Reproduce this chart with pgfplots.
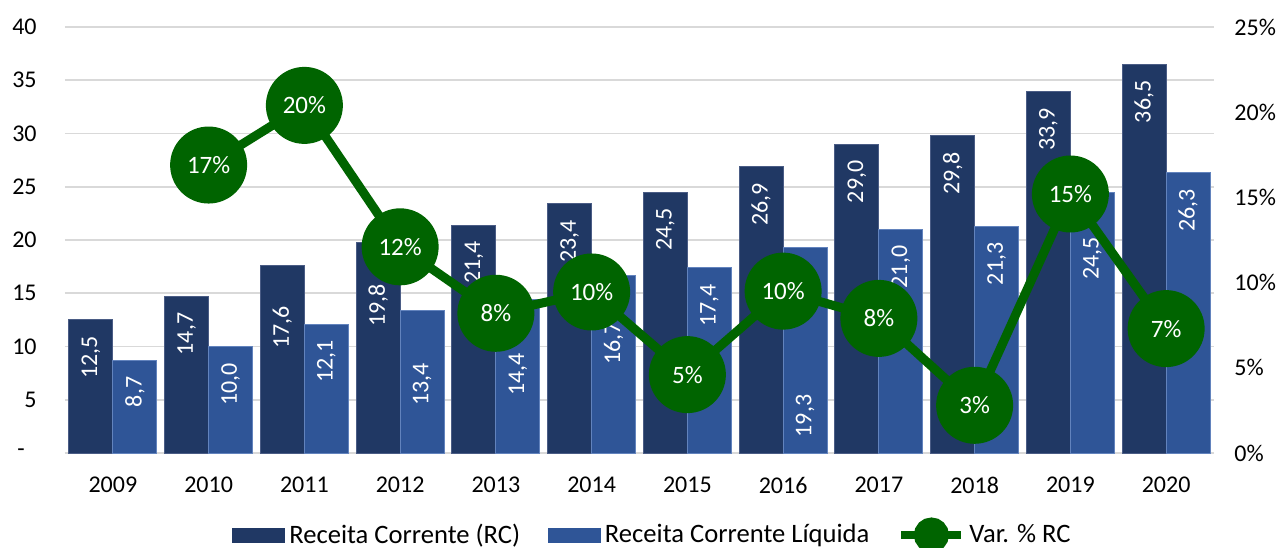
\documentclass[border=0pt]{standalone}
\usepackage{fontspec}
\setmainfont{Carlito}
\usepackage{graphicx}
\usepackage{pgfplots}
\usepackage{pgfplotstable}
\pgfplotsset{compat=1.18}
\definecolor{navy}{HTML}{203864}
\definecolor{navyedge}{HTML}{4A5C85}
\definecolor{lblue}{HTML}{2F5597}
\definecolor{lblueedge}{HTML}{6283BD}
\definecolor{vgreen}{HTML}{006400}
\definecolor{gridc}{HTML}{D9D9D9}

% x, value, label text, label top position (axis units)
\pgfplotstableread{
x rc lrc prc rcl lrcl prcl
0 12.5 12,5 11.0 8.7 8,7 7.2
1 14.7 14,7 13.2 10.0 10,0 8.5
2 17.6 17,6 13.8 12.1 12,1 10.6
3 19.8 19,8 15.9 13.4 13,4 8.5
4 21.4 21,4 19.9 14.4 14,4 9.4
5 23.4 23,4 21.9 16.7 16,7 12.3
6 24.5 24,5 23.0 17.4 17,4 15.9
7 26.9 26,9 25.4 19.3 19,3 5.5
8 29.0 29,0 27.5 21.0 21,0 19.5
9 29.8 29,8 28.3 21.3 21,3 19.8
10 33.9 33,9 32.4 24.5 24,5 20.3
11 36.5 36,5 35.0 26.3 26,3 24.8
}\bars

\pgfplotstableread{
x v lbl
1 16.9 17
2 20.4 20
3 12.1 12
4 8.2 8
5 9.45 10
6 4.6 5
7 9.5 10
8 7.9 8
9 2.8 3
10 15.2 15
11 7.3 7
}\var

\begin{document}
\begin{tikzpicture}
\begin{axis}[
  scale only axis, width=574.5pt, height=213pt,
  xmin=-0.5, xmax=11.5, ymin=0, ymax=40,
  axis line style={draw=none}, tick style={draw=none},
  major tick length=0pt,
  xtick={0,...,11},
  xticklabels={2009,2010,2011,2012,2013,2014,2015,2016,2017,2018,2019,2020},
  xticklabel style={font=\fontsize{12}{14}\selectfont, inner sep=0pt, anchor=north, yshift=-12pt},
  ytick={0,5,...,40},
  yticklabels={-\kern6pt,5,10,15,20,25,30,35,40},
  yticklabel style={font=\fontsize{12}{14}\selectfont, inner sep=0pt, anchor=east, xshift=-14pt},
  ymajorgrids, grid style={gridc, line width=0.8pt},
  clip=false,
]
\coordinate (o) at (rel axis cs:0,0);
\addplot[ybar, bar width=22pt, bar shift=-11pt, fill=navy, draw=navyedge, line width=0.5pt]
  table[x=x, y=rc]{\bars};
\addplot[ybar, bar width=22pt, bar shift=11pt, fill=lblue, draw=lblueedge, line width=0.5pt]
  table[x=x, y=rcl]{\bars};
\addplot[draw=none, mark=none, point meta=explicit symbolic,
  nodes near coords={\rotatebox{90}{\pgfplotspointmeta}},
  every node near coord/.append style={anchor=north, inner sep=0pt, text=white, font=\fontsize{12}{14}\selectfont}]
  table[x expr=\thisrow{x}-0.2298, y=prc, meta=lrc]{\bars};
\addplot[draw=none, mark=none, point meta=explicit symbolic,
  nodes near coords={\rotatebox{90}{\pgfplotspointmeta}},
  every node near coord/.append style={anchor=north, inner sep=0pt, text=white, font=\fontsize{12}{14}\selectfont}]
  table[x expr=\thisrow{x}+0.2298, y=prcl, meta=lrcl]{\bars};
\end{axis}
\begin{axis}[
  scale only axis, width=574.5pt, height=213pt,
  xmin=-0.5, xmax=11.5, ymin=0, ymax=25,
  axis line style={draw=none}, tick style={draw=none},
  major tick length=0pt,
  xtick=\empty,
  ytick={0,5,...,25},
  yticklabels={0\%,5\%,10\%,15\%,20\%,25\%},
  yticklabel pos=right,
  yticklabel style={font=\fontsize{12}{14}\selectfont, inner sep=0pt, anchor=west, xshift=10pt},
  clip=false,
  legend style={at={(0.5,0)}, anchor=center, yshift=-41pt, xshift=7pt, draw=none, fill=none,
    legend columns=-1, font=\fontsize{13.3}{15}\selectfont,
    /tikz/every even column/.append style={column sep=12pt}},
]
\addlegendimage{legend image code/.code={\fill[navy] (0pt,-3.5pt) rectangle (26pt,3.5pt);}}
\addlegendentry{Receita Corrente (RC)}
\addlegendimage{legend image code/.code={\fill[lblue] (0pt,-3.5pt) rectangle (26pt,3.5pt);}}
\addlegendentry{Receita Corrente Líquida}
\addplot[vgreen, line width=4.5pt, mark=*, mark size=17pt, mark options={fill=vgreen, draw=none},
  point meta=explicit symbolic,
  nodes near coords={\pgfplotspointmeta\%},
  every node near coord/.append style={anchor=center, text=white, inner sep=0pt, font=\fontsize{12.5}{14}\selectfont},
  legend image code/.code={\draw[vgreen, line width=4pt] (0pt,0pt) -- (30pt,0pt); \fill[vgreen] (15pt,0pt) circle (6.5pt);}]
  table[x=x, y=v, meta=lbl]{\var};
\addlegendentry{Var. \% RC}
\end{axis}
\pgfresetboundingbox
\path[use as bounding box] ([shift={(-32.5pt,-47pt)}]o) rectangle ([shift={(606.5pt,226.5pt)}]o);
\end{tikzpicture}
\end{document}
